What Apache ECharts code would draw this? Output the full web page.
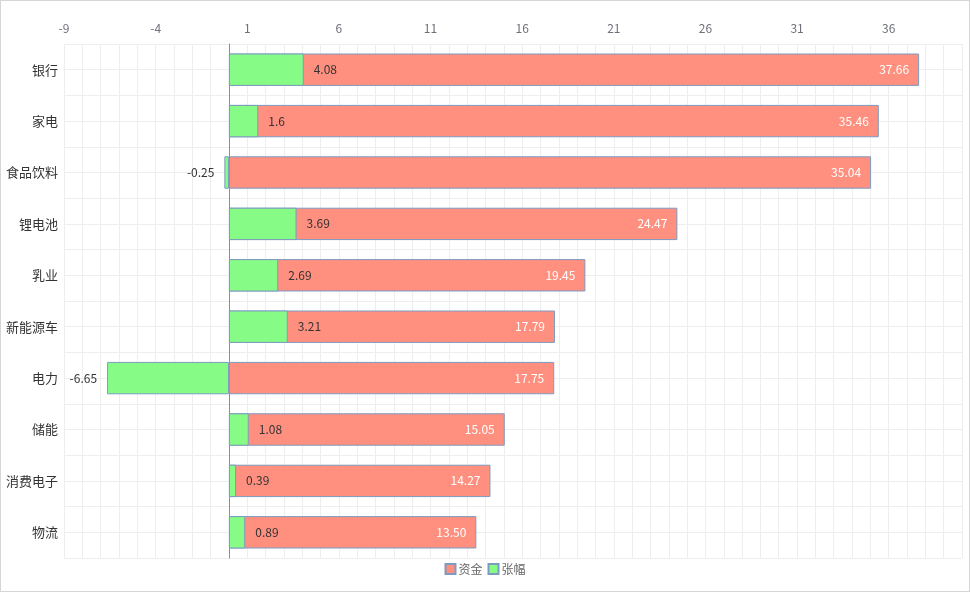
<!DOCTYPE html>
<html>
<head>
<meta charset="utf-8">
<script src="https://cdn.jsdelivr.net/npm/echarts@6/dist/echarts.min.js"></script>
<style>
html,body{margin:0;padding:0;background:#fff;}
#main{position:absolute;left:0;top:0;width:970px;height:592px;}
#frame{position:absolute;left:0;top:0;width:970px;height:592px;box-sizing:border-box;border:1px solid #d6d6d6;pointer-events:none;}
</style>
</head>
<body>
<div id="main"></div>
<div id="frame"></div>
<script>
const categories = ['银行', '家电', '食品饮料', '锂电池', '乳业', '新能源车', '电力', '储能', '消费电子', '物流'];
const fundValues = [37.66, 35.46, 35.04, 24.47, 19.45, 17.79, 17.75, 15.05, 14.27, 13.50];
const changeValues = [4.08, 1.6, -0.25, 3.69, 2.69, 3.21, -6.65, 1.08, 0.39, 0.89];
const seriesNames = ['资金', '张幅'];

const FONT = 'Noto Sans CJK SC';
const barBorder = '#7d9bc1';
const gridLine = '#eeeeee';

const chart = echarts.init(document.getElementById('main'));
chart.setOption({
  animation: false,
  textStyle: { fontFamily: FONT },
  legend: {
    data: seriesNames,
    bottom: 12,
    left: 'center',
    icon: 'rect',
    itemWidth: 10,
    itemHeight: 10,
    itemGap: 5,
    textStyle: { color: '#666', fontSize: 12, fontFamily: FONT, padding: [0, 0, 0, -2] }
  },
  grid: { left: 64, right: 8, top: 44, bottom: 34, containLabel: false },
  xAxis: {
    type: 'value',
    position: 'top',
    min: -9,
    max: 40,
    interval: 5,
    axisLine: { show: false },
    axisTick: { show: false },
    axisLabel: { color: '#6E7079', fontSize: 12, margin: 10, fontFamily: FONT,
      showMaxLabel: false },
    splitLine: { show: true, lineStyle: { color: gridLine } },
    minorTick: { show: false, splitNumber: 5 },
    minorSplitLine: { show: true, lineStyle: { color: gridLine } }
  },
  yAxis: [{
    type: 'category',
    data: categories,
    inverse: true,
    axisLine: { show: true, onZero: true, lineStyle: { color: '#6f94c4' } },
    axisTick: { show: false },
    axisLabel: { color: '#333', fontSize: 13, margin: 6, fontFamily: FONT },
    splitLine: { show: false }
  }, {
    type: 'value',
    min: 0,
    max: categories.length * 2,
    interval: 1,
    show: true,
    axisLine: { show: false },
    axisTick: { show: false },
    axisLabel: { show: false },
    splitLine: { show: true, lineStyle: { color: gridLine } }
  }],
  series: [{
    name: seriesNames[0],
    type: 'bar',
    yAxisIndex: 0,
    data: fundValues,
    barWidth: '63%',
    barGap: '-100%',
    itemStyle: { color: '#ff8f7e', borderColor: barBorder, borderWidth: 1 },
    label: {
      show: true,
      position: 'insideRight',
      distance: 10,
      color: '#fff',
      fontSize: 12,
      fontFamily: FONT,
      formatter: p => Number(p.value).toFixed(2)
    }
  }, {
    name: seriesNames[1],
    type: 'bar',
    yAxisIndex: 0,
    data: changeValues.map(v => ({
      value: v,
      label: { position: v < 0 ? 'left' : 'right' }
    })),
    barWidth: '63%',
    barGap: '-100%',
    itemStyle: { color: '#86fc86', borderColor: barBorder, borderWidth: 1 },
    label: {
      show: true,
      distance: 10,
      color: '#333',
      fontSize: 12,
      fontFamily: FONT
    }
  }]
});
</script>
</body>
</html>
